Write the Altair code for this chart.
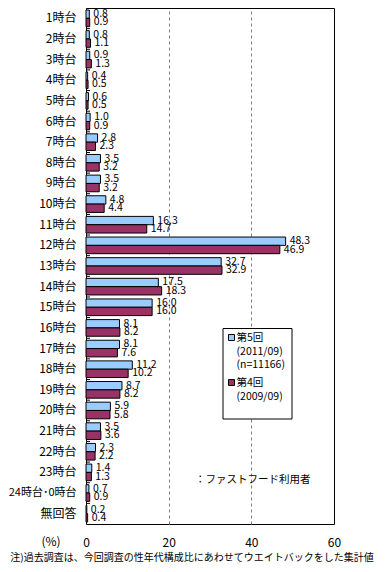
import altair as alt
import pandas as pd

categories = ["1時台", "2時台", "3時台", "4時台", "5時台", "6時台", "7時台", "8時台", "9時台",
              "10時台", "11時台", "12時台", "13時台", "14時台", "15時台", "16時台", "17時台",
              "18時台", "19時台", "20時台", "21時台", "22時台", "23時台", "24時台･0時台", "無回答"]
v_5th = [0.8, 0.8, 0.9, 0.4, 0.6, 1.0, 2.8, 3.5, 3.5, 4.8, 16.3, 48.3, 32.7, 17.5, 16.0,
         8.1, 8.1, 11.2, 8.7, 5.9, 3.5, 2.3, 1.4, 0.7, 0.2]
v_4th = [0.9, 1.1, 1.3, 0.5, 0.5, 0.9, 2.3, 3.2, 3.2, 4.4, 14.7, 46.9, 32.9, 18.3, 16.0,
         8.2, 7.6, 10.2, 8.2, 5.8, 3.6, 2.2, 1.3, 0.9, 0.4]
series = ["第5回", "第4回"]
legend_lines = ["第5回\n(2011/09)\n(n=11166)", "第4回\n(2009/09)"]
colors = ["#99CCFF", "#993366"]
x_ticks = [0, 20, 40, 60]
note_text = "：ファストフード利用者"
footnote = "注)過去調査は、今回調査の性年代構成比にあわせてウエイトバックをした集計値"
unit_text = "(%)"

FONT = "Noto Sans CJK JP"

rows = []
for c, a, b in zip(categories, v_5th, v_4th):
    rows.append({"cat": c, "series": series[0], "value": a})
    rows.append({"cat": c, "series": series[1], "value": b})
df = pd.DataFrame(rows)
cat_df = pd.DataFrame({"cat": categories})

long_label = categories[23]

y_enc = alt.Y("cat:N", sort=categories,
              scale=alt.Scale(paddingInner=0, paddingOuter=0),
              axis=alt.Axis(title=None, ticks=False, domain=False,
                            labelFontSize=alt.condition(f"datum.value == '{long_label}'",
                                                        alt.value(11), alt.value(12)),
                            labelPadding=10, labelColor="black", labelFont=FONT))
yoff_enc = alt.YOffset("series:N", sort=series,
                       scale=alt.Scale(paddingInner=0, paddingOuter=0.24))
x_enc = alt.X("value:Q", scale=alt.Scale(domain=[0, 60], nice=False),
              axis=alt.Axis(title=None, values=x_ticks, grid=True, gridDash=[3, 3],
                            gridColor="#808080",
                            gridOpacity=alt.condition("datum.value == 0 || datum.value == 60",
                                                      alt.value(0), alt.value(1)),
                            ticks=False, domain=False, labelFontSize=12, labelPadding=13,
                            labelColor="black", labelFont=FONT, labelFlush=False))

bars = alt.Chart(df).mark_bar(stroke="black", strokeWidth=1).encode(
    y=y_enc,
    yOffset=yoff_enc,
    x=x_enc,
    color=alt.Color("series:N", sort=series,
                    scale=alt.Scale(domain=series, range=colors),
                    legend=None),
)

labels = alt.Chart(df).mark_text(align="left", baseline="middle", dx=4, fontSize=10.5,
                                 font=FONT, color="black").encode(
    y=alt.Y("cat:N", sort=categories),
    yOffset=alt.YOffset("series:N", sort=series),
    x="value:Q",
    text=alt.Text("value:Q", format=".1f"),
)

ticks = alt.Chart(cat_df).mark_rule(color="black", strokeWidth=1).encode(
    y=alt.Y("cat:N", sort=categories, bandPosition=0),
    x=alt.value(0),
    x2=alt.value(4),
)

# legend box (drawn as annotation)
one = pd.DataFrame({"k": [0]})
legend_box = alt.Chart(one).mark_rect(fill="white", stroke="black", strokeWidth=1).encode(
    x=alt.value(137), x2=alt.value(206), y=alt.value(320.5), y2=alt.value(411))
sym1 = alt.Chart(one).mark_rect(fill=colors[0], stroke="black", strokeWidth=1).encode(
    x=alt.value(142.5), x2=alt.value(148.5), y=alt.value(326.5), y2=alt.value(332.5))
sym2 = alt.Chart(one).mark_rect(fill=colors[1], stroke="black", strokeWidth=1).encode(
    x=alt.value(142.5), x2=alt.value(148.5), y=alt.value(371.5), y2=alt.value(377.5))
leg_txt1 = alt.Chart(pd.DataFrame({"t": [legend_lines[0]]})).mark_text(
    align="left", baseline="top", fontSize=10.5, font=FONT, color="black",
    lineBreak="\n", lineHeight=13.5).encode(
    text="t:N", x=alt.value(150.5), y=alt.value(325))
leg_txt2 = alt.Chart(pd.DataFrame({"t": [legend_lines[1]]})).mark_text(
    align="left", baseline="top", fontSize=10.5, font=FONT, color="black",
    lineBreak="\n", lineHeight=13.5).encode(
    text="t:N", x=alt.value(150.5), y=alt.value(370))

note = alt.Chart(pd.DataFrame({"t": [note_text]})).mark_text(
    align="left", baseline="middle", fontSize=10.5, font=FONT, color="black").encode(
    text="t:N", x=alt.value(109), y=alt.value(472))

unit = alt.Chart(pd.DataFrame({"t": [unit_text]})).mark_text(
    align="center", baseline="middle", fontSize=12, font=FONT, color="black").encode(
    text="t:N", x=alt.value(-35), y=alt.value(534))

foot = alt.Chart(pd.DataFrame({"t": [footnote]})).mark_text(
    align="center", baseline="middle", fontSize=10, font=FONT, color="black").encode(
    text="t:N", x=alt.value(106), y=alt.value(550))

chart = alt.layer(bars, labels, ticks, legend_box, sym1, sym2, leg_txt1, leg_txt2,
                  note, unit, foot).properties(
    width=248, height=516,
    autosize=alt.AutoSizeParams(type="none"),
    padding={"left": 78, "top": 0, "right": 45, "bottom": 40},
).configure(background="white").configure_view(stroke="black", strokeWidth=1)

chart.save("out.html", embed_options={"renderer": "svg", "actions": False})
